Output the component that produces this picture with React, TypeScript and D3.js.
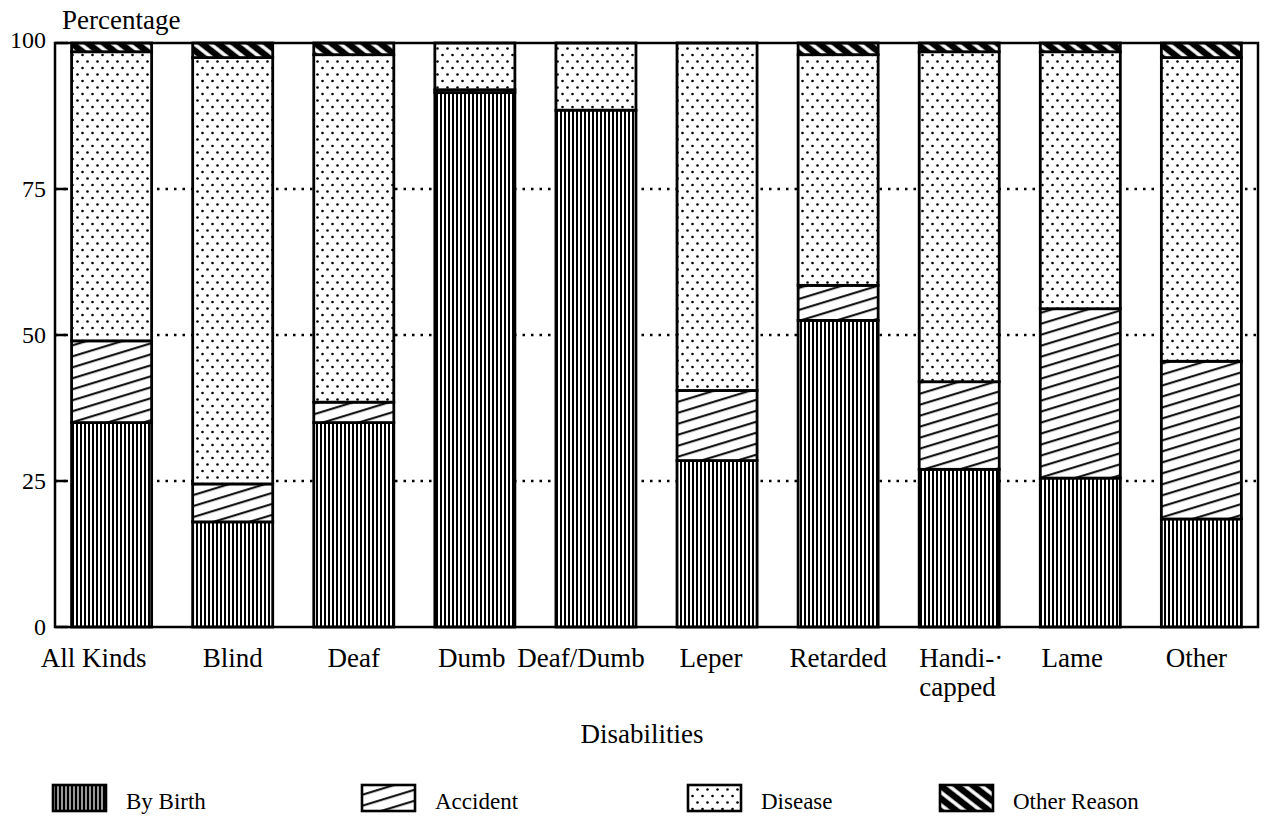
import React from "react";
import * as d3 from "d3";

const categories = ["All Kinds", "Blind", "Deaf", "Dumb", "Deaf/Dumb", "Leper", "Retarded", "Handicapped", "Lame", "Other"];
const tickLabels = [["All Kinds"], ["Blind"], ["Deaf"], ["Dumb"], ["Deaf/Dumb"], ["Leper"], ["Retarded"], ["Handi-·", "capped"], ["Lame"], ["Other"]];
const byBirth = [35, 18, 35, 91.5, 88.5, 28.5, 52.5, 27, 25.5, 18.5];
const accident = [14, 6.5, 3.5, 0.5, 0, 12, 6, 15, 29, 27];
const disease = [49.5, 73, 59.5, 8, 11.5, 59.5, 39.5, 56.5, 44, 52];
const otherReason = [1.5, 2.5, 2, 0, 0, 0, 2, 1.5, 1.5, 2.5];
const seriesNames = ["By Birth", "Accident", "Disease", "Other Reason"];
const yTicks = [0, 25, 50, 75, 100];

// layout-only offsets of the category labels relative to the bar centre
const labelDx = [-18, 0, 0, -3, -15, -6, 0, 0, -8, -5];

const W = 1267, H = 824;
const FONT = "'Liberation Serif', 'Times New Roman', serif";

export default function App() {
  const keys = ["birth", "accident", "disease", "other"];
  const rows = categories.map((c, i) => ({
    cat: c, birth: byBirth[i], accident: accident[i], disease: disease[i], other: otherReason[i],
  }));
  const stacked = d3.stack<any>().keys(keys)(rows);

  const x = d3.scaleBand<string>().domain(categories).range([55, 1258]).paddingInner(0.339).paddingOuter(0.137);
  const y = d3.scaleLinear().domain([0, 100]).range([627, 43]);
  const fills = ["url(#pBirth)", "url(#pAccident)", "url(#pDisease)", "url(#pOther)"];
  const legendFills = ["url(#pBirthL)", "url(#pAccident)", "url(#pDisease)", "url(#pOther)"];

  const legendX = [53, 362, 688, 940];
  const ts = { fontFamily: FONT };

  return (
    <svg width={W} height={H} style={{ position: "absolute", left: 0, top: 0, background: "#fff", fontFamily: FONT }}>
      <defs>
        <pattern id="pBirth" patternUnits="userSpaceOnUse" width={4} height={10}>
          <rect width={4} height={10} fill="#fff" />
          <line x1={1} y1={0} x2={1} y2={10} stroke="#000" strokeWidth={2} />
        </pattern>
        <pattern id="pBirthL" patternUnits="userSpaceOnUse" width={4} height={10}>
          <rect width={4} height={10} fill="#000" />
          <line x1={2} y1={0} x2={2} y2={10} stroke="#fff" strokeWidth={1.2} />
        </pattern>
        <pattern id="pAccident" patternUnits="userSpaceOnUse" width={10} height={10.5} patternTransform="rotate(-17)">
          <rect width={10} height={10.5} fill="#fff" />
          <line x1={0} y1={5} x2={10} y2={5} stroke="#000" strokeWidth={2} />
        </pattern>
        <pattern id="pDisease" patternUnits="userSpaceOnUse" width={10} height={13}>
          <rect width={10} height={13} fill="#fff" />
          <circle cx={2.5} cy={3} r={1.3} fill="#000" />
          <circle cx={7.5} cy={9.5} r={1.3} fill="#000" />
        </pattern>
        <pattern id="pOther" patternUnits="userSpaceOnUse" width={10} height={10} patternTransform="rotate(38)">
          <rect width={10} height={10} fill="#000" />
          <line x1={0} y1={5} x2={10} y2={5} stroke="#fff" strokeWidth={3.5} />
        </pattern>
      </defs>

      {/* dotted gridlines */}
      {yTicks.filter((t) => t > 0 && t < 100).map((t) => (
        <line key={"g" + t} x1={55} x2={1258} y1={y(t)} y2={y(t)} stroke="#000" strokeWidth={2.5} strokeDasharray="2.5 6" />
      ))}

      {/* bars */}
      {stacked.map((s, si) => (
        <g key={s.key}>
          {s.map((d, i) => {
            const h = y(d[0]) - y(d[1]);
            if (h <= 0) return null;
            return (
              <rect key={i} x={x(categories[i])} y={y(d[1])} width={x.bandwidth()} height={h}
                fill={fills[si]} stroke="#000" strokeWidth={2.8} />
            );
          })}
        </g>
      ))}

      {/* frame */}
      <rect x={55} y={43} width={1258 - 55} height={627 - 43} fill="none" stroke="#000" strokeWidth={2.5} />

      {/* y ticks */}
      {yTicks.map((t) => (
        <g key={"t" + t}>
          <line x1={55} x2={68} y1={y(t)} y2={y(t)} stroke="#000" strokeWidth={2.5} />
          <text style={ts} x={46} y={y(t) + (t === 100 ? -3 : 0)} textAnchor="end" dominantBaseline="central" fontSize={24}>{t}</text>
        </g>
      ))}
      <text style={ts} x={62} y={29} fontSize={27}>Percentage</text>

      {/* x labels */}
      {tickLabels.map((lines, i) => {
        const cx = (x(categories[i]) as number) + x.bandwidth() / 2 + labelDx[i];
        const multi = lines.length > 1;
        const lx = multi ? (x(categories[i]) as number) : cx;
        return (
          <text style={ts} key={"x" + i} x={lx} y={667} textAnchor={multi ? "start" : "middle"} fontSize={27}>
            {lines.map((l, j) => (
              <tspan key={j} x={lx} dy={j === 0 ? 0 : 29}>{l}</tspan>
            ))}
          </text>
        );
      })}
      <text style={ts} x={642} y={743} textAnchor="middle" fontSize={27}>Disabilities</text>

      {/* legend */}
      {seriesNames.map((n, i) => (
        <g key={"l" + i}>
          <rect x={legendX[i]} y={785} width={53} height={26} fill={legendFills[i]} stroke="#000" strokeWidth={2.6} />
          <text style={ts} x={legendX[i] + 73} y={809} fontSize={23}>{n}</text>
        </g>
      ))}
    </svg>
  );
}
